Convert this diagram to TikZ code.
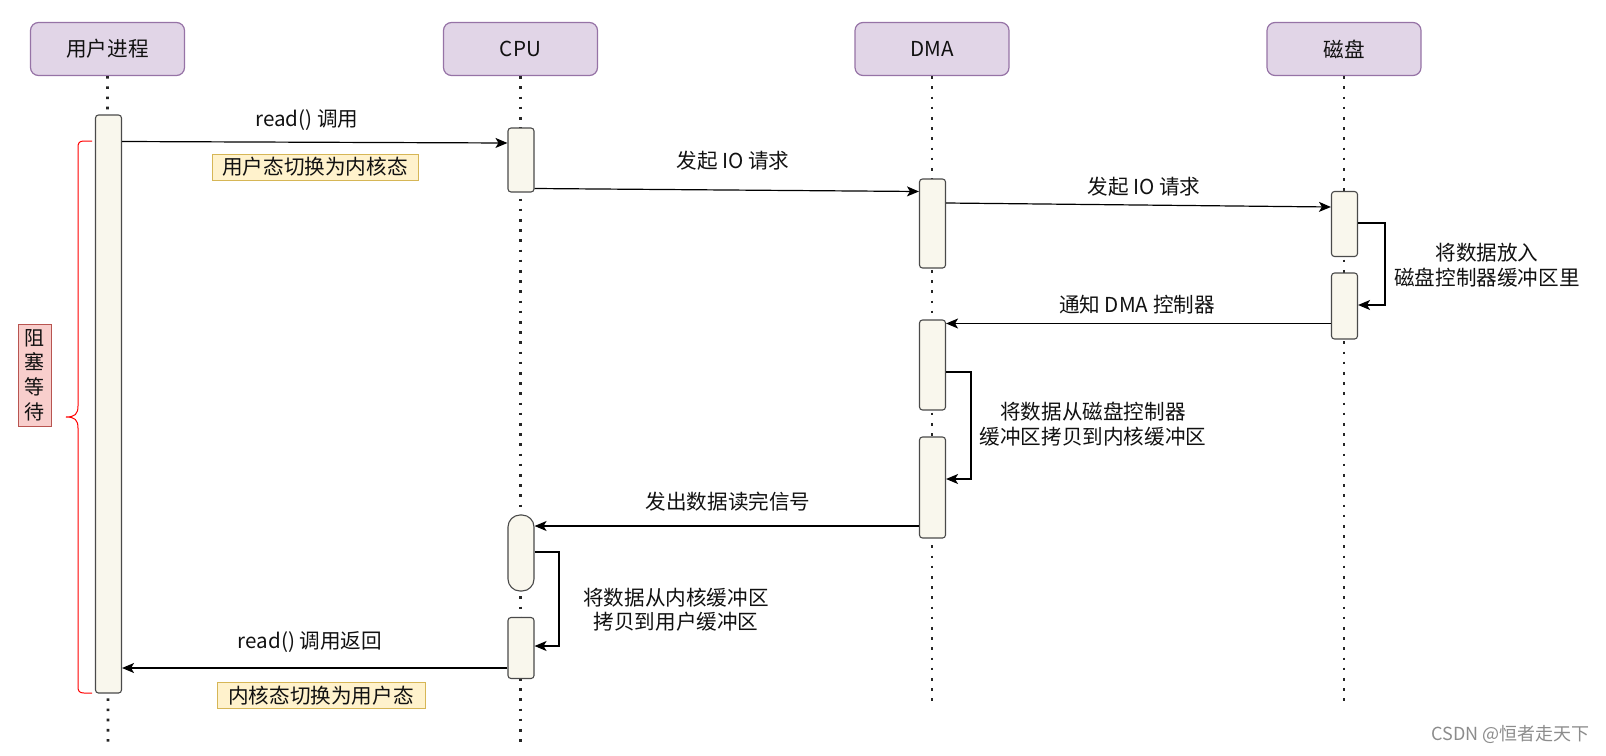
\documentclass[tikz,border=0pt]{standalone}
\usepackage{fontspec}
\setmainfont{Noto Sans CJK SC}
\usetikzlibrary{arrows.meta}
\definecolor{hdrfill}{HTML}{E1D5E7}
\definecolor{hdrdraw}{HTML}{9673A6}
\definecolor{actfill}{HTML}{F9F7ED}
\definecolor{actdraw}{HTML}{4A4A4A}
\definecolor{yelfill}{HTML}{FFF2CC}
\definecolor{yeldraw}{HTML}{D6B656}
\definecolor{redfill}{HTML}{F8CECC}
\definecolor{reddraw}{HTML}{B85450}
\definecolor{txt}{HTML}{111111}
\begin{document}
\begin{tikzpicture}[x=1pt,y=-1pt,
  font=\fontsize{20.6}{24.6}\selectfont, text=txt,
  hdr/.style={draw=hdrdraw, fill=hdrfill, line width=1.2pt, rounded corners=8pt,
    minimum width=154pt, minimum height=53pt, inner sep=0pt},
  act/.style={draw=actdraw, fill=actfill, line width=1.1pt, rounded corners=3pt,
    minimum width=26pt, inner sep=0pt},
  life/.style={draw=black!85, line width=2.6pt, dash pattern=on 2.6pt off 7.6pt},
  arr/.style={draw=black, line width=1.2pt, -{Stealth[length=12pt,width=10pt,inset=3pt]}},
  lbl/.style={inner sep=0pt, align=center},
  yel/.style={draw=yeldraw, fill=yelfill, line width=1pt, inner sep=0pt,
    minimum height=26pt},
]
\useasboundingbox (0,0) rectangle (1606,755);

% headers
\node[hdr] (h1) at (107.5,49) {用户进程};
\node[hdr] (h2) at (520.5,49) {CPU};
\node[hdr] (h3) at (932,49) {DMA};
\node[hdr] (h4) at (1344,49) {磁盘};

% lifeline ends
\coordinate (e1) at (108,747);
\coordinate (e2) at (520.5,747);
\coordinate (e3) at (932,706);
\coordinate (e4) at (1344,704);
\draw[life] (h1.south) -- (e1);
\draw[life] (h2.south) -- (e2);
\draw[life] (h3.south) -- (e3);
\draw[life] (h4.south) -- (e4);

% activation boxes
\node[act, minimum height=578pt] (ub) at (108.5,404) {};
\node[act, minimum height=64pt] (c1) at (521,160) {};
\node[act, minimum height=89pt] (d1) at (932.5,223.5) {};
\node[act, minimum height=65pt] (k1) at (1344.5,224) {};
\node[act, minimum height=66pt] (k2) at (1344.5,306) {};
\node[act, minimum height=90pt] (d2) at (932.5,365) {};
\node[act, minimum height=101pt] (d3) at (932.5,487.5) {};
\node[act, minimum height=76pt, rounded corners=12pt] (c2) at (521,553) {};
\node[act, minimum height=61pt] (c3) at (521,648) {};

% messages
\draw[arr] (ub.east |- 0,141.5) -- (c1.west |- 0,143);
\node[lbl] (m1) at (307,120) {read() 调用};
\node[yel, minimum width=206pt] (y1) at (315,167) {用户态切换为内核态};

\draw[arr] (c1.east |- 0,188.5) -- (d1.west |- 0,191.5);
\node[lbl] (m2) at (733,161) {发起 IO 请求};

\draw[arr] (d1.east |- 0,203) -- (k1.west |- 0,207);
\node[lbl] (m3) at (1144,187) {发起 IO 请求};

\draw[arr] (k1.east |- 0,223) -| (1385,305) -- (k2.east |- 0,305);
\node[lbl] (m4) at (1487,265) {将数据放入\\磁盘控制器缓冲区里};

\draw[arr] (k2.west |- 0,323.5) -- (d2.east |- 0,323.5);
\node[lbl] (m5) at (1137,305) {通知 DMA 控制器};

\draw[arr] (d2.east |- 0,372) -| (971,479) -- (d3.east |- 0,479);
\node[lbl] (m6) at (1093,424) {将数据从磁盘控制器\\缓冲区拷贝到内核缓冲区};

\draw[arr] (d3.west |- 0,526) -- (c2.east |- 0,526);
\node[lbl] (m7) at (728,502) {发出数据读完信号};

\draw[arr] (c2.east |- 0,552) -| (559,646) -- (c3.east |- 0,646);
\node[lbl] (m8) at (676,609.5) {将数据从内核缓冲区\\拷贝到用户缓冲区};

\draw[arr] (c3.west |- 0,668) -- (ub.east |- 0,668);
\node[lbl] (m9) at (310,642) {read() 调用返回};
\node[yel, minimum width=208pt] (y2) at (321,695.5) {内核态切换为用户态};

% blocking brace and label
\draw[red, line width=1pt]
  (92,141) -- (84,141) .. controls (79,141) and (78,143) .. (78,148)
  -- (78,406) .. controls (78,414) and (75,417) .. (66,417)
  .. controls (75,417) and (78,420) .. (78,428)
  -- (78,686) .. controls (78,691) and (79,693) .. (84,693) -- (92,693);
\node[draw=reddraw, fill=redfill, line width=1pt, minimum width=33pt,
  minimum height=102pt, inner sep=0pt, align=center,
  font=\fontsize{20}{24.6}\selectfont] (blk) at (34.8,375) {阻\\塞\\等\\待};

% watermark
\node[anchor=east, inner sep=0pt, text=black!45, font=\fontsize{18}{20}\selectfont]
  (wm) at (1590,734) {CSDN @恒者走天下};
\end{tikzpicture}
\end{document}
